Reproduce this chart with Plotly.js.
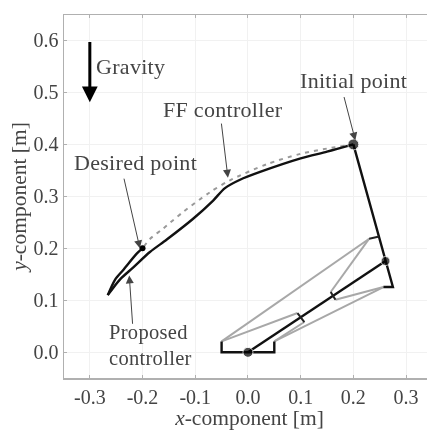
<!DOCTYPE html>
<html><head><meta charset="utf-8">
<script src="https://cdn.plot.ly/plotly-3.0.1.min.js"></script>
<style>html,body{margin:0;padding:0;background:#fff;overflow:hidden}#c{width:427px;height:430px;filter:blur(0.45px)}
.annotation-text{letter-spacing:.3px}
.xtitle{transform:translate(4px,4px)}</style>
</head><body><div id="c"></div>
<script>
const tickValsX=[-0.3,-0.2,-0.1,0,0.1,0.2,0.3];
const tickTextX=['-0.3','-0.2','-0.1','0.0','0.1','0.2','0.3'];
const tickValsY=[0,0.1,0.2,0.3,0.4,0.5,0.6];
const tickTextY=['0.0','0.1','0.2','0.3','0.4','0.5','0.6'];

const ffX=[0.2,0.15,0.1,0.036,-0.034,-0.072,-0.123,-0.161,-0.186,-0.2];
const ffY=[0.4,0.392,0.382,0.362,0.331,0.308,0.27,0.238,0.218,0.2];
const propOutX=[0.2,0.15,0.1,0.023,-0.015,-0.0436,-0.066,-0.104,-0.154,-0.186,-0.218,-0.243,-0.266];
const propOutY=[0.4,0.386,0.373,0.347,0.332,0.316,0.292,0.257,0.217,0.193,0.163,0.14,0.11];
const propBackX=[-0.266,-0.252,-0.237,-0.211,-0.2];
const propBackY=[0.11,0.14,0.158,0.19,0.2];

const muscleX=[-0.05,0.23,null,-0.05,0.094,null,0.05,0.107,null,0.05,0.257,null,0.23,0.157,null,0.166,0.257];
const muscleY=[0.021,0.2186,null,0.021,0.0756,null,0.021,0.0583,null,0.021,0.1256,null,0.2186,0.116,null,0.101,0.1256];

const link1X=[0,0.261];
const link1Y=[0,0.1756];
const link2X=[0.2,0.261,0.275,0.257];
const link2Y=[0.4,0.1756,0.1256,0.1256];
const upperTabX=[0.249,0.23];
const upperTabY=[0.223,0.2186];
const baseX=[-0.05,-0.05,0.05,0.05];
const baseY=[0.021,0,0,0.021];
const crossX=[0.094,0.107,null,0.157,0.166];
const crossY=[0.0756,0.0583,null,0.116,0.101];

const jointX=[0,0.261,0.2];
const jointY=[0,0.1756,0.4];
const jointSize=[10,9,11];
const desiredX=[-0.2];
const desiredY=[0.2];

const serif='"Liberation Serif", serif';
const ink='#444';
function line(x,y,color,width,dash,shape){
  return {x:x,y:y,mode:'lines',type:'scatter',hoverinfo:'skip',connectgaps:false,
    line:{color:color,width:width,dash:dash||'solid',shape:shape||'linear',smoothing:0.8}};
}
const traces=[
  line(muscleX,muscleY,'#a8a8a8',2),
  line(ffX,ffY,'#999',2,'4px,5px','spline'),
  line(propOutX,propOutY,'#111',2.4,null,'spline'),
  line(propBackX,propBackY,'#111',2.4,null,'spline'),
  line(link1X,link1Y,'#111',2.4),
  line(link2X,link2Y,'#111',2.4),
  line(upperTabX,upperTabY,'#222',2),
  line(baseX,baseY,'#111',2.4),
  line(crossX,crossY,'#222',2),
  {x:jointX,y:jointY,mode:'markers',type:'scatter',hoverinfo:'skip',marker:{color:'#000',size:jointSize}},
  {x:desiredX,y:desiredY,mode:'markers',type:'scatter',hoverinfo:'skip',marker:{color:'#000',size:6}}
];
function label(text,x,y,extra){
  return Object.assign({text:text,x:x,y:y,xref:'x',yref:'y',showarrow:false,
    font:{family:serif,size:22,color:ink}},extra||{});
}
function arrow(ax,ay,x,y,extra){
  return Object.assign({text:'',x:x,y:y,ax:ax,ay:ay,xref:'x',yref:'y',axref:'x',ayref:'y',
    showarrow:true,arrowhead:2,arrowsize:1.6,arrowwidth:1,arrowcolor:'#444'},extra||{});
}
const axisCommon={showline:true,linecolor:'#b0b0b0',linewidth:1.5,ticks:'inside',ticklen:3,
  tickcolor:'#b0b0b0',tickwidth:1,showgrid:true,gridcolor:'#f1f1f1',gridwidth:1,zeroline:false,
  tickfont:{family:serif,size:20,color:ink},automargin:false};
const smallFont={family:serif,size:20.5,color:ink};
const layout={
  width:427,height:430,showlegend:false,paper_bgcolor:'#fff',plot_bgcolor:'#fff',
  margin:{l:64,r:0,t:14.5,b:52.3},
  xaxis:Object.assign({},axisCommon,{mirror:'ticks',range:[-0.349,0.3397],tickvals:tickValsX,ticktext:tickTextX,
    title:{text:'<i>x</i>-component [m]',font:{family:serif,size:21.5,color:ink},standoff:20}}),
  yaxis:Object.assign({},axisCommon,{range:[-0.0494,0.649],tickvals:tickValsY,ticktext:tickTextY,
    title:{text:'<i>y</i>-component [m]',font:{family:serif,size:21.5,color:ink},standoff:1}}),
  annotations:[
    label('Gravity',-0.222,0.549),
    label('FF controller',-0.0465,0.467),
    label('Initial point',0.2,0.523),
    label('Desired point',-0.2125,0.365),
    label('Proposed',-0.2675,0.0375,{xanchor:'left',font:smallFont}),
    label('controller',-0.2675,-0.0105,{xanchor:'left',font:smallFont}),
    arrow(-0.0507,0.443,-0.038,0.336),
    arrow(0.1816,0.494,0.2037,0.4077),
    arrow(-0.2358,0.337,-0.205,0.2),
    arrow(-0.2187,0.052,-0.2252,0.148),
    arrow(-0.3,0.6,-0.3,0.481,{arrowhead:2,arrowsize:1.05,arrowwidth:3,arrowcolor:'#000'})
  ]
};
Plotly.newPlot('c',traces,layout,{displayModeBar:false,staticPlot:true});
</script></body></html>
